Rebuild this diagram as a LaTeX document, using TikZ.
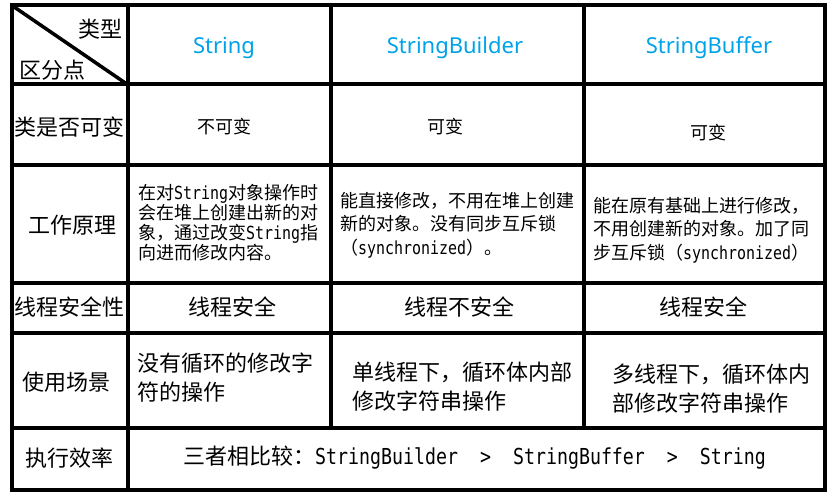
\documentclass[tikz,border=0pt]{standalone}
\usepackage{fontspec}
\newfontfamily\cjk{Noto Sans CJK SC}
\newfontfamily\hdr{Noto Sans}
\newfontfamily\hw[FakeStretch=0.83]{DejaVu Sans Mono}
\definecolor{hblue}{RGB}{0,162,232}
\begin{document}
\begin{tikzpicture}[x=1pt,y=-1pt,
  rule/.style={line width=4pt},
  big/.style={font=\cjk\fontsize{22pt}{29pt}\selectfont, inner sep=0pt, align=left},
  small/.style={font=\cjk\fontsize{18pt}{20pt}\selectfont, inner sep=0pt, align=left},
  head/.style={font=\hdr\fontsize{22pt}{26pt}\selectfont, text=hblue, inner sep=0pt}]
\useasboundingbox (0,0) rectangle (831,495);
% grid
\draw[rule] (12,5.5) rectangle (825,490);
\foreach \yy in {84.5,165,283,333,428} \draw[rule] (12,\yy) -- (825,\yy);
\draw[rule] (127.5,5.5) -- (127.5,490);
\draw[rule] (331,5.5) -- (331,428);
\draw[rule] (584,5.5) -- (584,428);
\draw[line width=3.5pt] (12,5.5) -- (127.5,84.5);
% header
\node[big, anchor=east] (lx) at (123,29) {类型};
\node[big, anchor=west] (ly) at (19,70) {区分点};
\node[head] (h1) at (224,48) {String};
\node[head] (h2) at (455,48) {StringBuilder};
\node[head] (h3) at (709,48) {StringBuffer};
% row 1
\node[big] (r1) at (70,127) {类是否可变};
\node[small] (a1) at (224,127) {不可变};
\node[small] (b1) at (445,127) {可变};
\node[small] (c1) at (708,133) {可变};
% row 2
\node[big] (r2) at (72,225) {工作原理};
\node[small, anchor=north west] (a2) at (138,184) {在对{\hw String}对象操作时\\会在堆上创建出新的对\\象，通过改变{\hw String}指\\向进而修改内容。};
\node[small, anchor=north west, font=\cjk\fontsize{18pt}{23.5pt}\selectfont] (b2) at (340,192) {能直接修改，不用在堆上创建\\新的对象。没有同步互斥锁\\（{\hw synchronized}）。};
\node[small, anchor=north west, font=\cjk\fontsize{18pt}{23.5pt}\selectfont] (c2) at (593,197) {能在原有基础上进行修改，\\不用创建新的对象。加了同\\步互斥锁（{\hw synchronized}）};
% row 3
\node[big] (r3) at (70,307) {线程安全性};
\node[big] (a3) at (232,307) {线程安全};
\node[big] (b3) at (459,307) {线程不安全};
\node[big] (c3) at (703,307) {线程安全};
% row 4
\node[big] (r4) at (67,382) {使用场景};
\node[big, anchor=north west] (a4) at (137,353) {没有循环的修改字\\符的操作};
\node[big, anchor=north west] (b4) at (352,362) {单线程下，循环体内部\\修改字符串操作};
\node[big, anchor=north west] (c4) at (612,364) {多线程下，循环体内\\部修改字符串操作};
% row 5
\node[big] (r5) at (70,458) {执行效率};
\node[big, anchor=west] (a5) at (183,458) {三者相比较：{\hw StringBuilder~~>~~StringBuffer~~>~~String}};
\end{tikzpicture}
\end{document}
